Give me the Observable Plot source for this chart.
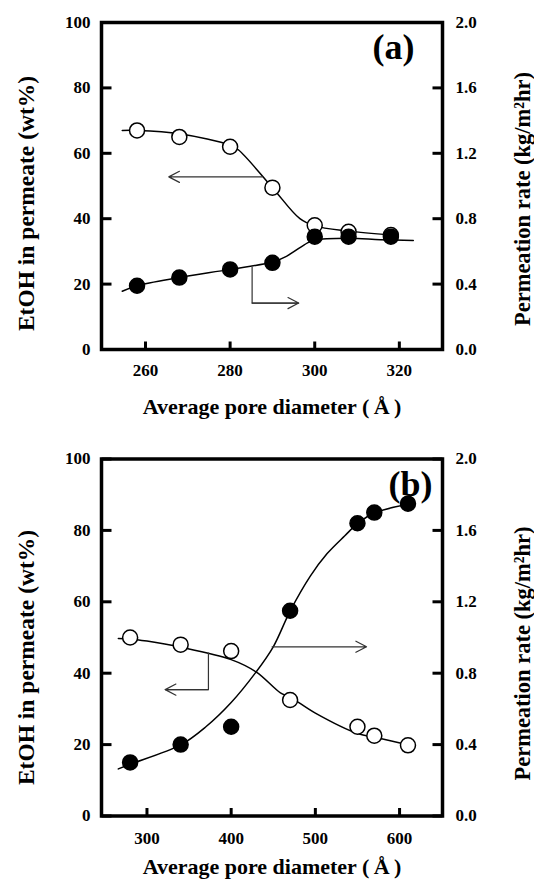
<!DOCTYPE html>
<html><head><meta charset="utf-8">
<script src="https://cdn.jsdelivr.net/npm/d3@7"></script>
<script src="https://cdn.jsdelivr.net/npm/@observablehq/plot@0.6"></script>
<style>
html,body{margin:0;padding:0;background:#fff;overflow:hidden;}
#chart svg{display:block;}
</style></head><body><div id="chart"></div>
<script>
// ---------- shared axis ticks / labels ----------
const yTicks = [0, 20, 40, 60, 80, 100];
const yTickLabelsRight = ["0.0", "0.4", "0.8", "1.2", "1.6", "2.0"];
const yLabelLeft = "EtOH in permeate (wt%)";
const yLabelRight = "Permeation rate (kg/m\u00B2hr)";
const xLabel = "Average pore diameter (\u2009\u00C5\u2009)";
const permMax = 2.0; // right axis top

// ---------- panel (a) ----------
const xTicksA = [260, 280, 300, 320];
const poreA = [258, 268, 280, 290, 300, 308, 318];
const etohA = [67, 65, 62, 49.5, 38, 36, 35];
const permA = [0.39, 0.44, 0.49, 0.53, 0.69, 0.69, 0.69];
// smooth fit lines
const fitEtohAx = [254.5, 258, 268, 280, 282, 290, 296.5, 300, 308, 318];
const fitEtohAy = [67, 67, 66, 62.5, 61, 49.5, 40, 37.8, 36.2, 35];
const fitPermAx = [254.5, 258, 268, 280, 290, 293.3, 298.3, 300, 308, 315.5, 323.3];
const fitPermAy = [0.356, 0.39, 0.44, 0.49, 0.535, 0.57, 0.652, 0.67, 0.68, 0.672, 0.667];
// annotation arrows (x, wt%)
const arrowEtohA = [[287.6, 52.8], [265.5, 52.8]];
const arrowPermA = [[285.2, 25.2], [285.2, 14.2], [296.2, 14.2]];

// ---------- panel (b) ----------
const xTicksB = [300, 400, 500, 600];
const poreB = [280, 340, 400, 470, 550, 570, 610];
const etohB = [50, 48, 46.2, 32.5, 25, 22.5, 19.8];
const permB = [0.30, 0.40, 0.50, 1.15, 1.64, 1.70, 1.75];
const fitEtohBx = [266, 280, 300, 340, 400, 430, 458.5, 470, 500, 550, 573.5, 612];
const fitEtohBy = [49.7, 49.6, 49, 47.3, 43.8, 40.3, 34.5, 33.3, 28.8, 23.1, 21.9, 19.8];
const fitPermBx = [266, 280, 340, 370, 400, 428.8, 450, 470, 494, 514, 535, 552, 571.5, 610];
const fitPermBy = [0.264, 0.29, 0.398, 0.50, 0.636, 0.802, 0.948, 1.148, 1.344, 1.47, 1.57, 1.646, 1.70, 1.746];
const arrowEtohB = [[373, 45.6], [373, 35.4], [321.7, 35.4]];
const arrowPermB = [[448.6, 47.4], [560.8, 47.4]];

const toLeft = v => v * 100 / permMax;
const FONT = "'Liberation Serif', 'Times New Roman', serif";
const W = 534, ML = 101, MR = 92, TICKX = 8, TICKY = 10;

function arrowMarks(path) {
  const pts = path.map(([x, y]) => ({x, y}));
  const n = pts.length;
  const seg = [{x1: pts[n - 2].x, y1: pts[n - 2].y, x2: pts[n - 1].x, y2: pts[n - 1].y}];
  const marks = [];
  if (n > 2) marks.push(Plot.line(pts, {x: "x", y: "y", stroke: "#333", strokeWidth: 1.2}));
  marks.push(Plot.arrow(seg, {x1: "x1", y1: "y1", x2: "x2", y2: "y2", stroke: "#333", strokeWidth: 1.2, headLength: 15, headAngle: 55}));
  return marks;
}

function panel(o) {
  const etoh = o.pore.map((p, i) => ({x: p, y: o.etoh[i]}));
  const perm = o.pore.map((p, i) => ({x: p, y: toLeft(o.perm[i])}));
  const fitE = o.fitEx.map((x, i) => ({x, y: o.fitEy[i]}));
  const fitP = o.fitPx.map((x, i) => ({x, y: toLeft(o.fitPy[i])}));
  const txt = {fontFamily: FONT, fontWeight: "bold", fill: "#000"};
  const frameW = W - ML - MR, frameH = o.height - o.mt - o.mb;
  const [x0, x1] = o.xDomain;
  const xUnit = (x1 - x0) / frameW, yUnit = 100 / frameH; // data units per pixel
  const xt = o.xTicks.map(v => ({x: v, ya: 0, yb: TICKX * yUnit}));
  const ytl = yTicks.map(v => ({y: v, xa: x0, xb: x0 + TICKY * xUnit}));
  const ytr = yTicks.map(v => ({y: v, xa: x1, xb: x1 - TICKY * xUnit}));
  return Plot.plot({
    width: W, height: o.height,
    marginLeft: ML, marginRight: MR, marginTop: o.mt, marginBottom: o.mb,
    x: {domain: o.xDomain},
    y: {domain: [0, 100]},
    style: {fontFamily: FONT, fontWeight: "bold", fontSize: "17px", color: "#000", background: "#fff", overflow: "visible"},
    marks: [
      Plot.line(fitE, {x: "x", y: "y", curve: "catmull-rom", stroke: "#000", strokeWidth: 1.5}),
      Plot.line(fitP, {x: "x", y: "y", curve: "catmull-rom", stroke: "#000", strokeWidth: 1.5}),
      ...arrowMarks(o.arrowE),
      ...arrowMarks(o.arrowP),
      Plot.dot(etoh, {x: "x", y: "y", r: 7.5, fill: "#fff", stroke: "#000", strokeWidth: 1.5}),
      Plot.dot(perm, {x: "x", y: "y", r: 7.5, fill: "#000", stroke: "#000", strokeWidth: 1.5}),
      Plot.frame({stroke: "#000", strokeWidth: 3.5}),
      // inward tick marks
      Plot.link(xt, {x1: "x", x2: "x", y1: "ya", y2: "yb", stroke: "#000", strokeWidth: 3}),
      Plot.link(ytl, {x1: "xa", x2: "xb", y1: "y", y2: "y", stroke: "#000", strokeWidth: 3}),
      Plot.link(ytr, {x1: "xa", x2: "xb", y1: "y", y2: "y", stroke: "#000", strokeWidth: 3}),
      // tick labels
      Plot.axisX({ticks: o.xTicks, tickFormat: d => String(d), tickSize: 0, tickPadding: o.xPad, label: null, fontSize: 17, ...txt}),
      Plot.axisY({anchor: "left", ticks: yTicks, tickFormat: d => String(d), tickSize: 0, tickPadding: 11, label: null, fontSize: 17, ...txt}),
      Plot.axisY({anchor: "right", ticks: yTicks, tickFormat: d => yTickLabelsRight[yTicks.indexOf(d)], tickSize: 0, tickPadding: 13, label: null, fontSize: 17, ...txt}),
      // panel tag and axis titles
      Plot.text([o.tag], {frameAnchor: "top-right", dx: o.tagDx, dy: o.tagDy, fontSize: 36, textAnchor: "middle", lineAnchor: "middle", ...txt}),
      Plot.text([yLabelLeft], {frameAnchor: "left", rotate: -90, dx: -75, dy: o.leftDy, fontSize: 23.5, textAnchor: "middle", lineAnchor: "middle", ...txt}),
      Plot.text([yLabelRight], {frameAnchor: "right", rotate: -90, dx: 80, dy: o.rightDy, fontSize: 22.5, textAnchor: "middle", lineAnchor: "middle", ...txt}),
      Plot.text([xLabel], {frameAnchor: "bottom", dy: o.xLabDy, fontSize: 22, textAnchor: "middle", lineAnchor: "middle", ...txt})
    ]
  });
}

const chart = document.getElementById("chart");
chart.append(panel({
  tag: "(a)", height: 440, mt: 22, mb: 91, xDomain: [249.6, 330.2], xTicks: xTicksA, xPad: 14,
  pore: poreA, etoh: etohA, perm: permA,
  fitEx: fitEtohAx, fitEy: fitEtohAy, fitPx: fitPermAx, fitPy: fitPermAy,
  arrowE: arrowEtohA, arrowP: arrowPermA,
  tagDx: -49, tagDy: 24.5, leftDy: 17.5, rightDy: 13, xLabDy: 57
}));
chart.append(panel({
  tag: "(b)", height: 441, mt: 18.5, mb: 65.5, xDomain: [246, 651], xTicks: xTicksB, xPad: 16,
  pore: poreB, etoh: etohB, perm: permB,
  fitEx: fitEtohBx, fitEy: fitEtohBy, fitPx: fitPermBx, fitPy: fitPermBy,
  arrowE: arrowEtohB, arrowP: arrowPermB,
  tagDx: -32, tagDy: 25, leftDy: 20, rightDy: 16, xLabDy: 51
}));
</script></body></html>
